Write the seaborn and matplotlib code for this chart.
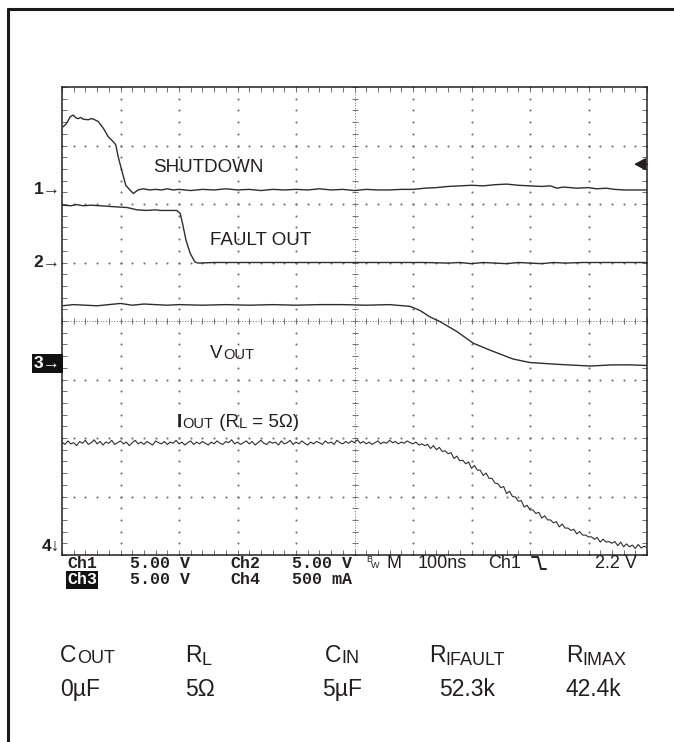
import numpy as np
import matplotlib
matplotlib.use('Agg')
import matplotlib.pyplot as plt
import seaborn as sns
from matplotlib.lines import Line2D

# scope screen in divisions: x 0..10 (100ns/div), y 0..8
shutdown_t = [0.02, 0.08, 0.14, 0.19, 0.24, 0.28, 0.32, 0.36, 0.45, 0.50,
              0.54, 0.62, 0.71, 0.79, 0.88, 0.92, 0.96, 1.02, 1.09, 1.16,
              1.22, 1.30, 1.39, 1.50, 1.60, 1.70, 1.80, 1.90, 2.00, 2.20,
              2.40, 2.60, 2.80, 3.00, 3.20, 3.40, 3.60, 3.80, 4.00, 4.20,
              4.40, 4.60, 4.80, 5.00, 5.20, 5.40, 5.60, 5.80, 6.00, 6.20,
              6.40, 6.60, 6.80, 7.00, 7.20, 7.40, 7.60, 7.80, 8.00, 8.20,
              8.35, 8.46, 8.57, 8.80, 9.00, 9.14, 9.30, 9.45, 9.60, 9.80,
              10.0]
shutdown_v = [7.32, 7.38, 7.49, 7.52, 7.47, 7.46, 7.48, 7.45, 7.44, 7.46,
              7.45, 7.41, 7.29, 7.15, 7.06, 7.01, 6.81, 6.58, 6.32, 6.24,
              6.18, 6.24, 6.26, 6.24, 6.25, 6.24, 6.26, 6.24, 6.25, 6.23,
              6.25, 6.24, 6.26, 6.24, 6.25, 6.23, 6.25, 6.24, 6.25, 6.24,
              6.26, 6.24, 6.25, 6.23, 6.25, 6.24, 6.24, 6.25, 6.25, 6.27,
              6.28, 6.30, 6.31, 6.32, 6.31, 6.33, 6.34, 6.32, 6.31, 6.30,
              6.31, 6.27, 6.29, 6.27, 6.28, 6.26, 6.27, 6.25, 6.24, 6.24,
              6.24]

fault_t = [0.00, 0.15, 0.25, 0.36, 0.50, 0.65, 0.80, 0.94, 1.11, 1.20,
           1.28, 1.45, 1.60, 1.68, 1.85, 1.96, 2.02, 2.06, 2.12, 2.19,
           2.27, 2.33, 2.60, 3.00, 3.40, 3.80, 4.20, 4.60, 5.00, 5.40,
           5.80, 6.20, 6.60, 6.80, 7.00, 7.20, 7.40, 7.60, 7.80, 8.00,
           8.20, 8.40, 8.60, 8.90, 9.20, 9.60, 10.0]
fault_v = [5.98, 5.97, 5.99, 5.97, 5.98, 5.97, 5.96, 5.95, 5.94, 5.92,
           5.90, 5.89, 5.90, 5.89, 5.89, 5.89, 5.84, 5.67, 5.38, 5.16,
           5.01, 4.99, 5.00, 5.00, 5.00, 5.00, 5.00, 5.00, 5.00, 5.00,
           5.00, 5.00, 4.99, 5.00, 4.98, 5.00, 4.99, 4.98, 5.00, 4.99,
           4.98, 5.00, 4.99, 5.00, 5.00, 5.00, 5.00]

vout_t = [0.00, 0.20, 0.40, 0.60, 0.80, 1.00, 1.20, 1.40, 1.60, 1.80,
          2.00, 2.40, 2.80, 3.20, 3.60, 4.00, 4.40, 4.80, 5.20, 5.60,
          5.95, 6.12, 6.29, 6.46, 6.75, 7.03, 7.32, 7.71, 8.00, 8.46,
          9.03, 9.40, 9.71, 10.0]
vout_v = [4.26, 4.28, 4.27, 4.26, 4.28, 4.30, 4.27, 4.29, 4.28, 4.27,
          4.28, 4.27, 4.28, 4.27, 4.28, 4.27, 4.28, 4.28, 4.27, 4.28,
          4.25, 4.18, 4.07, 3.99, 3.82, 3.62, 3.50, 3.35, 3.29, 3.26,
          3.23, 3.25, 3.25, 3.24]

# load current, one sample every 0.05 div
iout_v = [1.93, 1.89, 1.95, 1.90, 1.92, 1.87, 1.94, 1.91, 1.96, 1.89,
          1.92, 1.97, 1.90, 1.94, 1.88, 1.93, 1.91, 1.96, 1.89, 1.92,
          1.95, 1.90, 1.93, 1.87, 1.92, 1.96, 1.90, 1.93, 1.89, 1.94,
          1.91, 1.88, 1.95, 1.92, 1.90, 1.94, 1.89, 1.93, 1.91, 1.96,
          1.90, 1.93, 1.88, 1.92, 1.95, 1.89, 1.93, 1.90, 1.94, 1.91,
          1.88, 1.93, 1.90, 1.95, 1.91, 1.89, 1.94, 1.92, 1.97, 1.90,
          1.93, 1.89, 1.92, 1.95, 1.90, 1.94, 1.88, 1.92, 1.96, 1.91,
          1.89, 1.94, 1.91, 1.93, 1.88, 1.95, 1.90, 1.92, 1.96, 1.89,
          1.93, 1.90, 1.95, 1.91, 1.88, 1.93, 1.90, 1.94, 1.92, 1.89,
          1.95, 1.91, 1.93, 1.89, 1.96, 1.92, 1.90, 1.94, 1.91, 1.95,
          1.92, 1.97, 1.91, 1.94, 1.90, 1.93, 1.89, 1.92, 1.95, 1.90,
          1.93, 1.91, 1.96, 1.92, 1.94, 1.90, 1.93, 1.91, 1.95, 1.92,
          1.90,
          1.93, 1.88, 1.90, 1.87, 1.89, 1.82, 1.87, 1.80, 1.84, 1.77,
          1.78, 1.73, 1.75, 1.65, 1.69, 1.61, 1.62, 1.56, 1.59, 1.48,
          1.53, 1.45, 1.45, 1.36, 1.40, 1.31, 1.31, 1.23, 1.22, 1.15,
          1.17, 1.05, 1.09, 1.00, 0.99, 0.92, 0.93, 0.82, 0.85, 0.77,
          0.77, 0.71, 0.73, 0.63, 0.67, 0.60, 0.60, 0.55, 0.57, 0.48,
          0.53, 0.46, 0.46, 0.42, 0.44, 0.36, 0.40, 0.34, 0.34, 0.31,
          0.31, 0.27, 0.30, 0.22, 0.27, 0.22, 0.23, 0.20, 0.23, 0.16,
          0.22, 0.14, 0.19, 0.14, 0.17, 0.11, 0.18, 0.12, 0.15, 0.13]
iout_t = np.linspace(0, 10, len(iout_v))

# channel ground markers (div) and trigger
ch_labels = ['1', '2', '3', '4']
ch_ground = [6.24, 5.00, 3.28, 0.14]
ch1_volts_per_div = 5.0
trig_level = 2.2

status_row1 = ['Ch1', '5.00 V', 'Ch2', '5.00 V']
status_row2 = ['Ch3', '5.00 V', 'Ch4', '500 mA']
timebase = ['M', '100ns', 'Ch1', '2.2 V']

# component table under the screen
comp_main = ['C', 'R', 'C', 'R', 'R']
comp_sub = ['OUT', 'L', 'IN', 'IFAULT', 'IMAX']
comp_vals = ['0\u00b5F', '5\u03a9', '5\u00b5F', '52.3k', '42.4k']

assert len(shutdown_t) == len(shutdown_v)
assert len(fault_t) == len(fault_v)
assert len(vout_t) == len(vout_v)

ink = '#231f20'
trace_col = '#2e2e2e'
grid_col = '#707070'
W, H = 674, 742


def fx(px):
    return px / W


def fy(py):
    return 1 - py / H


sns.set_theme(style='white')
plt.rcParams['font.family'] = ['Liberation Sans', 'DejaVu Sans']

fig = plt.figure(figsize=(W / 100, H / 100), dpi=100)
fig.patch.set_facecolor('white')
ax = fig.add_axes([fx(62), fy(555), (647 - 62) / W, (555 - 87) / H])
ax.set_xlim(0, 10)
ax.set_ylim(0, 8)

# graticule
ys = np.arange(0, 8.001, 0.2)
xs = np.arange(0, 10.001, 0.2)
for gx in [1, 2, 3, 4, 6, 7, 8, 9]:
    ax.plot(np.full(len(ys), gx), ys, ls='none', marker='o', ms=1.5,
            mec='none', color=grid_col, zorder=1)
for gy in [1, 2, 3, 5, 6, 7]:
    ax.plot(xs, np.full(len(xs), gy), ls='none', marker='o', ms=1.5,
            mec='none', color=grid_col, zorder=1)
ax.axvline(5, ls=(0, (1, 1.8)), lw=0.7, color=grid_col, zorder=1)
ax.axhline(4, ls=(0, (1, 1.8)), lw=0.7, color=grid_col, zorder=1)
ax.plot(xs, np.full(len(xs), 4), ls='none', marker='|', ms=4.5, mew=0.7,
        color=grid_col, zorder=1)
ax.plot(np.full(len(ys), 5), ys, ls='none', marker='_', ms=4.5, mew=0.7,
        color=grid_col, zorder=1)

ax.set_xticks(range(11))
ax.set_xticks(xs, minor=True)
ax.set_yticks(range(9))
ax.set_yticks(ys, minor=True)
ax.tick_params(which='both', direction='in', top=True, right=True,
               bottom=True, left=True, labelbottom=False, labelleft=False,
               length=3.5, width=0.7, color=grid_col)
for s in ax.spines.values():
    s.set_color(ink)
    s.set_linewidth(1.1)
ax.set_xlabel('')
ax.set_ylabel('')

# traces
for t, v, lw in [(shutdown_t, shutdown_v, 1.0), (fault_t, fault_v, 1.0),
                 (vout_t, vout_v, 1.0), (iout_t, iout_v, 0.8)]:
    sns.lineplot(x=t, y=v, ax=ax, color=trace_col, lw=lw,
                 estimator=None, sort=False, zorder=3)


def chain(base, parts):
    prev, prev_drop = base, 0.0
    for txt, size, drop in parts:
        prev = ax.annotate(txt, xy=(1, 0), xycoords=prev,
                           xytext=(0.2, prev_drop - drop),
                           textcoords='offset points', fontsize=size,
                           color=ink, va='bottom', ha='left',
                           annotation_clip=False)
        prev_drop = drop
    return prev


big, small = 13.5, 10.5
ax.text(1.556, 6.55, 'SHUTDOWN', fontsize=big, color=ink, va='baseline')
ax.text(2.53, 5.30, 'FAULT OUT', fontsize=big, color=ink, va='baseline')
v_lbl = ax.text(2.53, 3.37, 'V', fontsize=big, color=ink, va='baseline')
chain(v_lbl, [('OUT', small, 0)])
i_lbl = ax.text(1.966, 2.19, 'I', fontsize=big, color=ink, va='baseline',
                fontweight='bold')
chain(i_lbl, [('OUT', small, 0), (' (R', big, 0), ('L', small, 0),
              (' = 5\u03a9)', big, 0)])

# channel markers left of the screen
for lab, g in zip(ch_labels, ch_ground):
    arrow = '\u2193' if lab == '4' else '\u2192'
    kw = dict(fontsize=12.5, va='center', ha='right',
              xycoords=('axes fraction', 'data'), textcoords='offset points',
              annotation_clip=False)
    if lab == '3':
        ax.annotate(lab + arrow, xy=(0, g), xytext=(-1, 0), color='white',
                    fontweight='bold',
                    bbox=dict(boxstyle='square,pad=0.12', fc='#111111',
                              ec='none'), **kw)
    else:
        ax.annotate(lab + arrow, xy=(0, g), xytext=(-1, 0), color=ink,
                    fontweight='bold', **kw)

# trigger level marker on the right edge
trig_y = ch_ground[0] + trig_level / ch1_volts_per_div
ax.annotate('', xy=(9.78, trig_y), xytext=(10.0, trig_y),
            arrowprops=dict(arrowstyle='-|>,head_length=0.55,head_width=0.3',
                            color=ink, lw=1.3, shrinkA=0, shrinkB=0))

# status read-out under the screen
mono = ['Liberation Mono', 'DejaVu Sans Mono']
for txt, x in zip(status_row1, [67, 130, 230, 292]):
    fig.text(fx(x), fy(563), txt, family=mono, fontsize=12, color=ink,
             fontweight='bold', va='center')
for i, (txt, x) in enumerate(zip(status_row2, [67, 130, 230, 292])):
    if i == 0:
        fig.text(fx(x), fy(580), txt, family=mono, fontsize=12,
                 color='white', fontweight='bold', va='center',
                 bbox=dict(boxstyle='square,pad=0.08', fc='#111111',
                           ec='none'))
    else:
        fig.text(fx(x), fy(580), txt, family=mono, fontsize=12, color=ink,
                 fontweight='bold', va='center')
fig.text(fx(366), fy(559), 'B', fontsize=6.5, color=ink, va='center')
fig.text(fx(371), fy(565), 'W', fontsize=6.5, color=ink, va='center')
for txt, x in zip(timebase, [387, 418, 488, 595]):
    fig.text(fx(x), fy(563), txt, fontsize=13, color=ink, va='center')
fig.add_artist(Line2D([fx(532), fx(538), fx(541), fx(546)],
                      [fy(557), fy(557), fy(569), fy(569)],
                      transform=fig.transFigure, color=ink, lw=1.4))

# component values table
head_x = [60, 185, 325, 429, 566]
val_x = [60, 185, 322, 439, 566]
drops = [0, 1.6, 0, 1.4, 1.2]
for m, s, d, hx in zip(comp_main, comp_sub, drops, head_x):
    base = fig.text(fx(hx), fy(662), m, fontsize=16.5, color=ink,
                    va='baseline')
    chain(base, [(s, 13, d)])
for v, vx in zip(comp_vals, val_x):
    fig.text(fx(vx), fy(696), v, fontsize=16.5, color=ink, va='baseline')

# outer frame (left and top edges)
fig.add_artist(Line2D([fx(8), fx(8)], [0, fy(9)], transform=fig.transFigure,
                      color='#1a1a1a', lw=2.2))
fig.add_artist(Line2D([fx(8), 1], [fy(9), fy(9)], transform=fig.transFigure,
                      color='#1a1a1a', lw=2.2))

fig.savefig('out.png', dpi=100)
